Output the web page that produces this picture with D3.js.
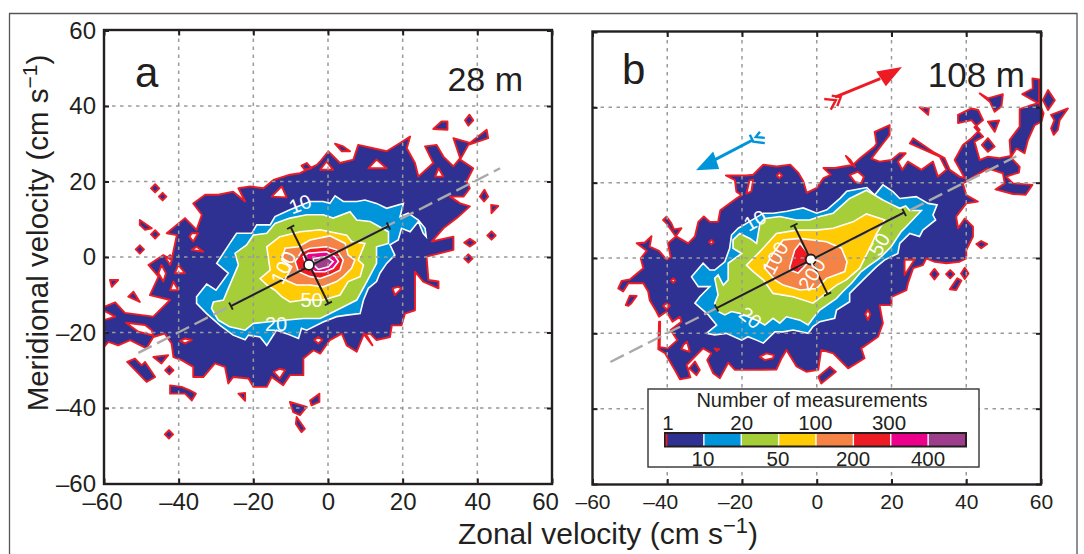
<!DOCTYPE html>
<html><head><meta charset="utf-8">
<script src="https://cdnjs.cloudflare.com/ajax/libs/d3/7.8.5/d3.min.js"></script>
<style>html,body{margin:0;padding:0;background:#fff}svg{display:block}text{font-family:"Liberation Sans",Arial,sans-serif;fill:#231f20}</style>
</head><body><svg id="c" width="1084" height="554"></svg>
<script>
// ---- legend / ticks
const levelColors=["#2e3192","#0095da","#a6ce39","#ffcb05","#f58345","#ed1c24","#ec008c","#9e3d8c"];
const legendTop=["1","20","100","300"];
const legendBottom=["10","50","200","400"];
const xTicks=[-60,-40,-20,0,20,40,60];
const yTicks=[-60,-40,-20,0,20,40,60];
const gridTicks=[-40,-20,0,20,40];

// ---- panel a (28 m): contours in cm/s
const aOuter=[[-60,-13.2],[-57,-12],[-54.4,-14.8],[-46.8,-15.8],[-42.3,-11.4],[-47.7,-10.1],[-45.4,-5.2],[-48.1,-2.1],[-44.1,.5],[-41.9,-.8],[-40.5,5.8],[-43.2,6.3],[-38.3,10.3],[-35.2,7.2],[-33.8,11.2],[-36.1,14.2],[-32.9,16.5],[-29.4,16.5],[-25.4,17.3],[-22.2,14.7],[-24,18.2],[-20.9,18.7],[-17.3,18.2],[-14.6,20.4],[-10.2,21.8],[-7.5,22.2],[-3,24.4],[-2.1,25.3],[.1,28],[3.2,24.9],[6.8,25.8],[8.1,29.7],[12.1,28.8],[15.7,28],[19.3,30.2],[22,31.9],[21.1,28.8],[23.3,24.9],[24.2,21.3],[28.2,24.9],[26,29.3],[29.1,29.7],[30.9,26.6],[33.6,24],[35.4,26.2],[33.6,31.5],[38,30.2],[42.5,33.7],[42.9,31.5],[37.6,29.7],[35.4,25.8],[38.9,23.5],[37.1,20],[38,18.2],[36.3,16],[32.7,16],[35.4,14.2],[38,13.4],[34.5,10.3],[30.9,7.6],[27.8,4.1],[33.6,5.4],[33.6,1.9],[26.4,.1],[26.9,-6.1],[29.6,-6.5],[29.6,-8.3],[25.5,-6.5],[23.3,-3.9],[23.3,-14.1],[20.6,-15],[19.7,-18.1],[17.1,-18.1],[16.6,-21.2],[13,-22],[11.3,-20.3],[9.5,-20.7],[7.7,-25.1],[5,-23.4],[3.7,-20.3],[.5,-22],[-2.1,-25.6],[-3.9,-24.7],[-6.6,-26.9],[-6.6,-31.3],[-10.2,-31.3],[-12,-34],[-15.1,-31.8],[-16.4,-34.4],[-20,-34.4],[-21.3,-32.2],[-25.4,-31.8],[-26.7,-33.5],[-27.6,-29.1],[-30.3,-28.2],[-33.4,-31.8],[-36.1,-31.8],[-36.1,-29.1],[-39.2,-27.3],[-41.4,-26.5],[-41.9,-22.9],[-43.7,-20.3],[-46.8,-21.2],[-48.6,-24.2],[-53,-22],[-56.2,-23.4],[-58.8,-22.5],[-60,-23.8],[-60,-16.7],[-57,-15.8],[-60,-14.2]];
const aHoles=[
[[-54.1,-17.4],[-49,-18],[-47.2,-19.4],[-46.8,-20.8],[-50.8,-19.8]],
[[-12.4,18.7],[-15.1,16],[-11.1,15.8]],
[[-.4,25.3],[-2.1,23.1],[1.4,23.1]],
[[13,25.8],[10.8,23.5],[15.7,23.5]],
[[29.6,23.5],[28.7,21.3],[30.9,21.3]],
[[-44.6,-2.1],[-45.4,-4.3],[-44.1,-6.5],[-43.4,-4.3]],
[[-40.1,-2.1],[-41,-4.3],[-38.3,-4.3]],
[[-41.4,-6.5],[-42.3,-8.8],[-40.1,-8.8]],
[[-35.2,2.7],[-36.5,1.9],[-33.4,1.4]],
[[-36.5,6.3],[-37.1,5.4],[-36.1,4.1],[-34.8,6.3]],
[[-42.3,.5],[-43.4,-.4],[-42.3,-2.1],[-41.7,-.4]],
[[-38.3,-21.6],[-39.6,-22.2],[-38.3,-22.9],[-36.5,-22]],
[[-12.9,-29.6],[-14.6,-30.4],[-12.9,-32.2],[-11.5,-30]],
[[18.8,-7.9],[17.3,-8.3],[17.9,-10.1],[19.7,-8.3]],
[[-2.6,-21.2],[-1.5,-22],[-2.6,-22.9],[-3.7,-22]]];
const aIslands=[
[[-46.3,19.3],[-45.2,18.2],[-46.3,17.1],[-47.4,18.2]],
[[-44.3,17],[-43.3,16],[-44.3,15],[-45.3,16]],
[[-50.4,9.8],[-47.2,7.6],[-49,7.2],[-50.4,8.5]],
[[-46.3,7.1],[-45.2,6],[-46.3,4.9],[-47.4,6]],
[[-50.4,3.1],[-49.3,2],[-50.4,.9],[-51.5,2]],
[[-58.4,-6.1],[-56.2,-6.1],[-57.9,-7.9]],
[[-52.1,-9.2],[-50.4,-11.9],[-53.5,-10.5]],
[[37.9,37.7],[38.9,36.2],[37.6,34.8],[36.7,36.2]],
[[28.2,33.9],[30.4,35.9],[32,35.9],[32,33.7]],
[[1.9,30],[4.1,29.3],[5.9,28],[3.7,28]],
[[-5.7,24.9],[-4.4,23.5],[-6.2,23.1],[-7.1,24.2]],
[[41.9,17.8],[42.9,16],[41.8,14.7],[40.7,16]],
[[43.7,13.8],[45.6,13.5],[43.8,11.6]],
[[43.8,6.8],[44.9,5.7],[43.8,4.6],[42.7,5.7]],
[[38,4.8],[39.5,3.8],[38,2.8],[36.5,3.8]],
[[37.6,.7],[38.7,-.4],[37.6,-1.5],[36.5,-.4]],
[[-42.3,-34],[-39.2,-34.4],[-37,-35.3],[-35.4,-36.2],[-36.5,-38],[-38.3,-36.2],[-42.3,-36.2]],
[[-24,-36.2],[-22.2,-36],[-22.2,-38.1]],
[[-10.2,-38.4],[-5.7,-39.7],[-7.5,-41.9],[-9.3,-41.1]],
[[-4.8,-38],[-2.3,-36.2],[-2.3,-38.4],[-4.4,-39.3]],
[[-8.4,-42.4],[-6.2,-45.5],[-7.1,-46.4],[-8.6,-44.2]],
[[-42.6,-45.9],[-41.5,-47],[-42.6,-48.1],[-43.7,-47]],
[[-46.8,-26.5],[-42.8,-26],[-44.6,-28.2]],
[[-53.8,-27.8],[-51.7,-26.9],[-49.9,-28.7],[-49,-27.8],[-46.3,-31.8],[-48.6,-33.1]],
[[-42.5,-28.9],[-41.4,-30],[-42.5,-31.1],[-43.6,-30]],
[[9.5,-20.3],[11.9,-23.4],[10.5,-21]]];
const a10=[[-35.2,-10.5],[-32.5,-7.2],[-30,-8.8],[-26.7,-4.3],[-29.8,-1.7],[-26.3,3.6],[-24.5,6.3],[-20.4,6.3],[-19.1,8.5],[-15.5,8.5],[-14.2,10.7],[-10.2,12.5],[-4.8,14.7],[-1.3,14.7],[.5,14.2],[1.9,16.2],[4.1,14.7],[7.7,14.7],[9.9,15.1],[13,14.2],[15.7,12.9],[20.2,14.2],[19.3,10.7],[21.5,11.6],[24.2,9.8],[26,7.6],[26.3,5.4],[25.5,6.3],[24.2,9.4],[22,6.7],[19.7,7.6],[18.8,4.5],[16.6,3.2],[17.9,.5],[15.7,-1.7],[13.9,-4.3],[13,-6.5],[10.8,-8.3],[9.5,-11.4],[8.6,-15],[5,-15.4],[2.3,-15.8],[-1.3,-17.2],[-5.7,-19.4],[-7.1,-18.9],[-7.9,-21.6],[-11.1,-20.3],[-13.8,-19.4],[-16.4,-23.4],[-18.2,-21.2],[-21.3,-20.7],[-22.2,-21.9],[-25.4,-20.7],[-28.9,-18.1],[-32.5,-15],[-35.2,-12.3]];
const a20=[[-31.2,-13.6],[-30.7,-11.9],[-28,-11.4],[-26.7,-8.3],[-24,-2.1],[-24.9,1],[-21.8,3.2],[-20,5.8],[-16.4,6.3],[-14.2,8.9],[-10.2,10.3],[-5.7,11.2],[-1.3,11.2],[1.4,10.3],[5.9,12],[7.7,9.8],[11.3,9.4],[16.2,6.7],[16.2,3.6],[13,2.7],[13,-1.7],[10.4,-6.5],[7.7,-11.4],[2.3,-14.1],[-2.1,-16.3],[-6.6,-16.3],[-11.1,-16.7],[-16.4,-17.2],[-20,-17.6],[-22.2,-19.4],[-26.3,-18.5],[-29.4,-16.7]];
const a50=[[-18.2,-5.7],[-15.5,-3.5],[-16.4,2.7],[-12.9,5.4],[-7.5,6.7],[-2.1,7.2],[.5,6.7],[5,5.8],[6.3,4.1],[9.9,3.6],[8.1,-.8],[9.5,-2.1],[8.6,-5.2],[5.4,-6.5],[3.2,-10.1],[-1.3,-11.4],[-6.6,-11.4],[-10.2,-11.9],[-12.4,-10.5],[-14.2,-8.8],[-16.4,-7.4]];
const a100=[[-12.4,-.8],[-11.5,2.3],[-7.9,2.7],[-4.8,4.5],[.5,5.6],[4.6,3.6],[5.4,.5],[7.2,-.8],[6.3,-3],[4.1,-5.2],[2.3,-6.5],[-1.3,-7.9],[-4.8,-7.4],[-8.4,-7.4],[-11.5,-6.1],[-9.7,-2.6]];
const a200=[[-8.8,-1.2],[-7.1,1.4],[-4.8,2.3],[-.4,2.7],[2.3,1.9],[4.1,-.8],[3.2,-3.5],[.5,-4.8],[-2.1,-5.7],[-4.8,-5.2],[-7.9,-3.9]];
const a300=[[-6.6,.1],[-5.3,1],[-.4,1.4],[1.9,.1],[2.8,-1.2],[1.4,-3],[-.8,-3.9],[-3.5,-3.9],[-5.7,-2.6]];
const a400=[[-3.9,-.4],[-.4,.1],[1.4,-1.2],[.1,-2.6],[-2.6,-3.3],[-3.9,-2.1]];
const aMean=[-5.1,-2.1];
const aMajor=[[-26,-13],[16.2,8.2]];
const aMinor=[[-10,7.9],[.1,-12.3]];
const aTrend=[[-50.8,-25.4],[46.1,23.5]];
const aLabels=[["10",-7.3,13.6,-20],["20",-13.9,-18.2,0],["50",-4.4,-11.9,0],["100",-11.5,-3,-65]];

// ---- panel b (108 m)
const bOuter=[[-53.1,-8.1],[-52.2,-6.1],[-50,-5.7],[-46.4,-2.7],[-47.1,-.1],[-45.5,1.9],[-48.2,3.9],[-46,4.1],[-44.2,5.8],[-44.7,3],[-42.2,1.9],[-40.2,-.4],[-39.1,.2],[-39.8,3.9],[-37.7,5.7],[-40.2,9.2],[-41.1,10.1],[-40.2,11],[-38.9,9.2],[-38.2,7.6],[-36.2,7.9],[-37.7,5.8],[-34.4,3.9],[-32.6,5.7],[-31.7,9.6],[-30.2,11],[-28.6,9.6],[-26.4,9.6],[-25.8,12.7],[-21.5,15.8],[-20.1,16.7],[-21.5,17.6],[-21.9,20.7],[-24.3,21.9],[-18.8,21.9],[-17,22.1],[-15.6,23.5],[-14.3,24.8],[-10.7,24.3],[-7.1,24.8],[-4.9,22.6],[-3.6,20.4],[-2.7,17.3],[0,18.6],[1.8,21.2],[3.75,22.1],[1.8,23.9],[4.9,23.9],[7.1,24.3],[9.7,24.7],[11.5,26.4],[15.5,29.6],[16,30.4],[15.5,33.5],[19.5,35.3],[19.5,32.7],[17.7,30.4],[14.6,26.4],[16.8,25.6],[20,26],[22.2,27.8],[23.8,27.8],[21.7,25.6],[22.9,23.4],[24.4,25.6],[28,23.4],[31.1,25.6],[32.4,21.6],[34.7,23.4],[32.9,26.9],[24.9,30.4],[25.8,31.8],[31.1,28.2],[34.2,26.5],[35.6,23.4],[38.2,21.6],[39.6,21.2],[36.9,26],[39.1,30],[41.4,31.8],[43.6,34],[41.4,36.6],[37.8,35.8],[37.8,38],[41.4,39.7],[43.2,39.3],[44.5,36.6],[42.2,34.7],[44.5,32.2],[42.2,30.9],[43.6,26],[45.8,26.9],[48.9,26.5],[51.9,27.1],[51.6,31.3],[54.3,34.9],[54.3,39.5],[57.4,40.6],[59.2,41.1],[55,43.5],[57.8,45],[57.7,47.7],[59.5,47.4],[59.5,41.1],[60.7,38.4],[60.1,36.2],[58.3,35.3],[56.5,31.3],[55.6,27.8],[53.4,29.1],[51.9,26.7],[54.3,24.2],[54.1,22.7],[50.7,21.6],[52.5,19.8],[57.7,19.4],[55.9,16.8],[52.5,17],[47.8,18.2],[50.3,19.8],[49.8,22.5],[45.8,23.8],[42.7,22],[39.1,19.8],[40,16.7],[43.1,15],[40,14.5],[37.3,11],[37.8,7.9],[39.6,10.5],[41.8,8.3],[41.8,5.7],[40,2.1],[40,-.1],[38.2,-1],[34.7,-1.4],[31.6,-1],[29.3,-.1],[28.4,-1.9],[25.8,-2.7],[24.4,-6.7],[24,-8.5],[20,-10.3],[20,-12.5],[16.8,-12.5],[17.7,-17.3],[16.4,-20.9],[11.9,-24],[12.8,-26.6],[8.4,-29.3],[4.4,-25.3],[1.2,-24.4],[.4,-29.7],[-2.8,-30.2],[-5.4,-28.8],[-8.1,-24.4],[-9.4,-26.6],[-10.8,-29.6],[-16.1,-29.7],[-21.9,-29.7],[-23.7,-27.8],[-25.9,-31.9],[-27.7,-30.6],[-29.3,-27.1],[-28.2,-25.3],[-30.4,-24],[-34.8,-28.4],[-33.8,-31.7],[-36.6,-32.2],[-38,-29.7],[-40.6,-25.3],[-42.4,-24.2],[-42.2,-16.9],[-41.9,-16.9],[-42,-23.7],[-39.8,-24],[-37.3,-21.8],[-39.1,-19.1],[-36.2,-16.9],[-36.6,-15.6],[-38.6,-16.9],[-40.2,-14.2],[-42.2,-15.6],[-42.9,-14.2],[-44.7,-11.2],[-45.1,-8.9],[-46.4,-6.7],[-50.4,-6.7],[-51.8,-8.9]];
const bHoles=[
[[-18,20.6],[-17,20.8],[-17.5,17.7],[-18.8,17.1]],
[[-10,22.6],[-9.3,21.9],[-10,21.2],[-10.7,21.9]],
[[-28.2,4.8],[-27.6,4.2],[-28.2,3.6],[-28.8,4.2]],
[[-38.4,-5.4],[-37.8,-6],[-38.4,-6.6],[-39,-6]],
[[8.8,22],[11,22.9],[12.6,21.6],[11.9,19.8],[10.2,20.2]],
[[23.5,-.5],[26.2,-.4],[23.5,-4.5]],
[[13.7,-13.8],[14.3,-14.9],[13.7,-16.5],[13,-14.9]],
[[-35.7,-23.1],[-34.7,-22.2],[-34,-24.9],[-36.2,-24.2]],
[[-27.3,-24],[-26.1,-24.2],[-26.8,-24.7]],
[[-15.2,-26.2],[-13.5,-25.3],[-11.5,-25.8],[-11.7,-26.6],[-13.9,-27.1]],
[[-40.2,-12],[-39.3,-12.7],[-40.2,-13.6],[-41.1,-12.7]]];
const bIslands=[
[[-51.1,-12.5],[-50,-10],[-48.2,-10.1],[-49.6,-12],[-50.4,-12.7]],
[[-32.6,-27.5],[-31.3,-29.7],[-32.2,-31.1],[-34.1,-29.3]],
[[3.5,-28.9],[5.1,-30.2],[1.2,-33.3],[.4,-31.5]],
[[31.5,-2.9],[32.6,-4.3],[31.5,-5.7],[30.4,-4.3]],
[[35.7,-3.2],[36.8,-4.3],[35.7,-5.4],[34.6,-4.3]],
[[39.6,-2.6],[40.6,-4.1],[39.6,-5.6],[38.6,-4.1]],
[[37.6,-5.4],[38.7,-6],[37.3,-8.5],[35.6,-8.3]],
[[42.7,3.7],[44,4.5],[45.6,3.7],[44,2.6]],
[[45.8,36.2],[48.8,36.5],[47.6,33.5]],
[[45.8,31.8],[47.6,29.6],[45.8,28.2],[44.2,30]],
[[43.6,43.7],[45.8,42.4],[49.8,43.5],[49.4,40.2],[47.6,38.8],[46.3,41.5]],
[[61.9,44.6],[63.7,41.9],[61.9,39.3],[60.5,41.9]],
[[62.7,38],[67.2,39.7],[65,36.6],[64.5,34],[63.4,32.7],[62.7,34.4],[63.6,36.6]],
[[27.5,40],[30,39.7],[29.8,38]],
[[7.8,27.1],[9,26],[10.2,24.2],[8.8,25.5]]];
const b10=[[-33.5,-5],[-30.4,-1.4],[-28.6,-3.2],[-27.3,-3.2],[-24.6,-1],[-23.3,2.6],[-22.8,6.1],[-21,7.9],[-18.8,9.2],[-14.3,11.9],[-11.6,11.9],[-8,12.4],[-3.6,13.3],[0,11.9],[2.7,12.8],[6.3,15.9],[8,17.7],[13.4,18.7],[15.5,16.7],[17.7,19.4],[20.4,17.6],[22.2,15.8],[26.6,16.3],[29.8,14.5],[32.2,14.1],[31.1,11.4],[31.8,10.1],[28.4,7.4],[27.5,5.7],[24.9,6.5],[22.2,3.9],[21.7,1.2],[18.2,-.5],[16,-2.3],[12.4,-5.8],[8.8,-9.4],[8.8,-11.6],[5.3,-13.8],[4.8,-16],[.8,-16.9],[-1,-18.2],[-2.3,-20],[-6.3,-19.1],[-9,-19.6],[-11.2,-19.6],[-14.3,-22.6],[-16.1,-21.8],[-18.4,-20.9],[-20.1,-21.8],[-24.2,-20],[-27.3,-20.4],[-29.5,-20],[-26.8,-17.8],[-29,-15.1],[-32.6,-12],[-31.3,-10.3],[-28.6,-7.6],[-31.7,-7.6]];
const b20=[[-26.4,-14.2],[-27.3,-12],[-26.4,-9.8],[-27.3,-5.4],[-26.4,-4.5],[-25,-7.2],[-23.7,-5.8],[-23.7,-1.4],[-20.1,1.2],[-22.4,2.6],[-22.4,4.8],[-20.6,6.5],[-17.9,5.2],[-16.1,3.9],[-15.2,9.2],[-13.9,10.5],[-9.9,11],[-5.4,10.1],[-1.9,10.1],[.8,11],[4.4,11.9],[8.8,15.8],[13.3,18],[17.7,15.4],[19.5,14.5],[22.2,13.2],[23.8,13.8],[24.9,12.6],[28,12.6],[23.9,8.3],[22.6,7],[19.9,3],[16.8,-.1],[14.2,-1.9],[11.9,-3.6],[9.3,-6.7],[7,-8.9],[5.3,-10.7],[.8,-13.8],[-1,-16],[-2.3,-17.8],[-4.5,-16.5],[-8.1,-15.6],[-9.9,-17.3],[-11.7,-16],[-13.9,-17.8],[-16.1,-16.5],[-20.6,-14.7],[-22.8,-14.2],[-24.6,-15.1]];
const b50=[[-18.8,-1.9],[-15.2,1.7],[-10.8,6.5],[-5.4,7.4],[-.1,7.4],[4.4,7.9],[9.7,9.6],[13.3,11.7],[18.2,10.1],[16,6.5],[14.6,3.5],[11.5,-2.7],[7.9,-5.8],[5.3,-7.2],[-1,-12],[-6.3,-10.3],[-11.7,-9.4],[-14.3,-5.8],[-17,-3.6]];
const b100=[[-13.9,-2.7],[-11.7,1.2],[-9,4.8],[-4.5,5.2],[2.6,4.3],[6.6,2.6],[8.1,-1],[7.5,-3.6],[2.6,-5.4],[-.1,-8.1],[-4.5,-8.5],[-9,-7.2],[-11.2,-5.8]];
const b200=[[-7.2,-2.3],[-5.9,2.1],[-4.5,3.9],[-2.3,1.2],[-1.7,-.5],[-3.7,-2.7],[-5,-4],[-7.2,-3.2]];
const bMean=[-1.6,-.4];
const bMajor=[[-26.8,-13.3],[23.4,12.1]];
const bMinor=[[-6.1,8.7],[2.9,-9.6]];
const bTrend=[[-55.2,-27.6],[53.4,27]];
const bLabels=[["10",-16.3,9.6,-30],["20",-18,-16.2,40],["50",17.1,3.4,-60],["100",-10.7,-.2,-62],["200",-.9,-4.6,-58]];
// current arrows (panel b)
const redHead=[[22.8,50.7],[15.9,49.5],[18.5,45.6]];
const redShaft=[[17,47.6],[4.9,42.7]];
const redFeathers=[[[2,42.2],[5.1,41.9],[3.75,39.4]],[[4,43.1],[6.4,42.7],[5.5,40.3]]];
const blueHead=[[-32.3,23.3],[-27.7,28.3],[-26.1,23.6]];
const blueShaft=[[-27.2,26.1],[-17,31.4]];
const blueFeathers=[[[-17.9,32.7],[-17,30.9],[-13.9,30.5]],[[-15.2,33.5],[-16.3,32.1],[-13.9,31.9]]];

const svg=d3.select("#c");
const ink="#231f20";
svg.append("path").attr("d","M9.5,554V13.5H1077V554").attr("fill","none").attr("stroke","#555").attr("stroke-width",1.3);

function panel(o){
  const x=d3.scaleLinear().domain([-60,60]).range(o.xr);
  const y=d3.scaleLinear().domain([-60,60]).range(o.yr);
  const line=d3.line().x(d=>x(d[0])).y(d=>y(d[1]));
  const g=svg.append("g");
  const ringPath=r=>line(r)+"Z";
  g.append("path").attr("d",[o.outer,...o.holes,...o.islands].map(ringPath).join(""))
    .attr("fill",levelColors[0]).attr("fill-rule","evenodd").attr("stroke","#ed1c24").attr("stroke-width",1.9).attr("stroke-linejoin","round");
  o.levels.forEach((r,i)=>g.append("path").attr("d",ringPath(r)).attr("fill",levelColors[i+1]).attr("stroke","#fff").attr("stroke-width",1.6));
  // grid
  const grid=g.append("g").attr("stroke","#9a9a9a").attr("stroke-width",1.5).attr("stroke-dasharray","3.5 4.5").attr("fill","none");
  grid.selectAll(".v").data(gridTicks).join("line").attr("x1",d=>x(d)).attr("x2",d=>x(d)).attr("y1",o.yr[1]).attr("y2",o.yr[0]);
  grid.selectAll(".h").data(gridTicks).join("line").attr("y1",d=>y(d)).attr("y2",d=>y(d)).attr("x1",o.xr[0]).attr("x2",o.xr[1]);
  // trend
  g.append("path").attr("d",line(o.trend)).attr("fill","none").attr("stroke","#aaa").attr("stroke-width",2.4).attr("stroke-dasharray","15 6");
  // axes of variance
  [o.major,o.minor].forEach(seg=>{
    g.append("path").attr("d",line(seg)).attr("stroke",ink).attr("stroke-width",2);
    const ang=Math.atan2(y(seg[1][1])-y(seg[0][1]),x(seg[1][0])-x(seg[0][0]));
    seg.forEach(p=>{const px=x(p[0]),py=y(p[1]),nx=-Math.sin(ang)*4,ny=Math.cos(ang)*4;
      g.append("line").attr("x1",px-nx).attr("y1",py-ny).attr("x2",px+nx).attr("y2",py+ny).attr("stroke",ink).attr("stroke-width",1.8);});
  });
  g.append("circle").attr("cx",x(o.mean[0])).attr("cy",y(o.mean[1])).attr("r",5).attr("fill","#fff").attr("stroke",ink).attr("stroke-width",1.8);
  // contour labels
  g.selectAll(".lbl").data(o.labels).join("text").attr("text-anchor","middle").attr("dominant-baseline","middle")
    .attr("transform",d=>`translate(${x(d[1])},${y(d[2])}) rotate(${d[3]})`).style("fill","#fff").style("font-size","20px").text(d=>d[0]);
  // frame
  g.append("rect").attr("x",o.xr[0]).attr("y",o.yr[1]-.5).attr("width",o.xr[1]-o.xr[0]).attr("height",o.yr[0]-o.yr[1]+1).attr("fill","none").attr("stroke","#231f20").attr("stroke-width",2.4);
  const fmt=d=>d<0?"\u2013"+(-d):""+d;
  const mk=(ax,tr,noLabel,size)=>{const a=g.append("g").attr("transform",tr).call(ax.tickValues(noLabel==="x"?xTicks:yTicks).tickSize(-5).tickPadding(o.pad).tickFormat(noLabel===true?"":fmt));
    a.select(".domain").remove();a.selectAll("line").attr("stroke",ink).attr("stroke-width",2);a.selectAll("text").style("font-size",size+"px").style("font-family",'"Liberation Sans"').style("fill",ink);return a;};
  mk(d3.axisBottom(x),`translate(0,${o.yr[0]})`,"x",o.xSize).selectAll("text").attr("dy","0.75em").attr("dx",d=>o.tickNudge(d));
  mk(d3.axisTop(x).tickValues(gridTicks),`translate(0,${o.yr[1]})`,true,1);
  if(o.yLabels) mk(d3.axisLeft(y),`translate(${o.xr[0]},0)`,"y",24);
  else mk(d3.axisLeft(y),`translate(${o.xr[0]},0)`,true,1);
  mk(d3.axisRight(y),`translate(${o.xr[1]},0)`,true,1);
  g.append("text").attr("x",o.letter[0]).attr("y",o.letter[1]).style("font-size","42px").text(o.letterText);
  g.append("text").attr("x",o.depth[0]).attr("y",o.depth[1]).attr("text-anchor","end").style("font-size",o.depthSize+"px").text(o.depthText);
  return {x,y,line,g};
}

panel({xr:[104,552],yr:[483.5,30.5],pad:8,xSize:24,yLabels:true,tickNudge:d=>d===60?-7:d===-60?-2:0,outer:aOuter,holes:aHoles,islands:aIslands,levels:[a10,a20,a50,a100,a200,a300,a400],mean:aMean,major:aMajor,minor:aMinor,trend:aTrend,labels:aLabels,letter:[135,87],letterText:"a",depth:[523,91],depthText:"28 m",depthSize:34});
const pb=panel({xr:[592.5,1041],yr:[484,32],pad:9,xSize:21,yLabels:false,tickNudge:d=>(d===-40||d===-20)?-7:0,outer:bOuter,holes:bHoles,islands:bIslands,levels:[b10,b20,b50,b100,b200],mean:bMean,major:bMajor,minor:bMinor,trend:bTrend,labels:bLabels,letter:[622,84],letterText:"b",depth:[1025,87],depthText:"108 m",depthSize:35});

// arrows
function arrow(head,shaft,feathers,c){
  pb.g.append("path").attr("d",pb.line(shaft)).attr("stroke",c).attr("stroke-width",3);
  pb.g.append("path").attr("d",pb.line(head)+"Z").attr("fill",c);
  feathers.forEach(f=>pb.g.append("path").attr("d",pb.line(f)).attr("fill","none").attr("stroke",c).attr("stroke-width",2.4));
}
arrow(redHead,redShaft,redFeathers,"#ed1c24");
arrow(blueHead,blueShaft,blueFeathers,"#0095da");

// legend
const lg=svg.append("g");
lg.append("rect").attr("x",648).attr("y",389).attr("width",331).attr("height",78).attr("fill","#fff").attr("stroke","#333").attr("stroke-width",1.4);
lg.append("text").attr("x",812).attr("y",407).attr("text-anchor","middle").style("font-size","20px").text("Number of measurements");
const band=d3.scaleBand().domain(levelColors).range([666.5,965.5]);
lg.selectAll(".seg").data(levelColors).join("rect").attr("x",d=>band(d)).attr("width",band.bandwidth()).attr("y",433).attr("height",13).attr("fill",d=>d).attr("stroke","none");
lg.selectAll(".div").data(levelColors.slice(1)).join("line").attr("x1",d=>band(d)).attr("x2",d=>band(d)).attr("y1",433).attr("y2",446).attr("stroke","#fff").attr("stroke-width",1.4);
lg.append("rect").attr("x",665).attr("y",433).attr("width",301).attr("height",13.5).attr("fill","none").attr("stroke","#231f20").attr("stroke-width",2);
lg.append("rect").attr("x",665.6).attr("y",434).attr("width",1.8).attr("height",11.5).attr("fill","#ed1c24");
const topPos=d3.scaleLinear().domain([0,3]).range([668,889]);
const botPos=d3.scaleLinear().domain([0,3]).range([703,928]);
lg.selectAll(".t").data(legendTop).join("text").attr("x",(d,i)=>topPos(i)).attr("y",430).attr("text-anchor","middle").style("font-size","20.5px").text(d=>d);
lg.selectAll(".b").data(legendBottom).join("text").attr("x",(d,i)=>botPos(i)).attr("y",466).attr("text-anchor","middle").style("font-size","20.5px").text(d=>d);

// axis titles
const xt=svg.append("text").attr("x",608).attr("y",544).attr("text-anchor","middle").style("font-size","30px");
xt.append("tspan").text("Zonal velocity (cm s");
xt.append("tspan").attr("dy",-11).style("font-size","22px").text("\u22121");
xt.append("tspan").attr("dy",11).text(")");
const yt=svg.append("text").attr("transform","translate(48,233) rotate(-90)").attr("text-anchor","middle").style("font-size","29.5px");
yt.append("tspan").text("Meridional velocity (cm s");
yt.append("tspan").attr("dy",-11).style("font-size","21px").text("\u22121");
yt.append("tspan").attr("dy",11).text(")");
</script></body></html>
